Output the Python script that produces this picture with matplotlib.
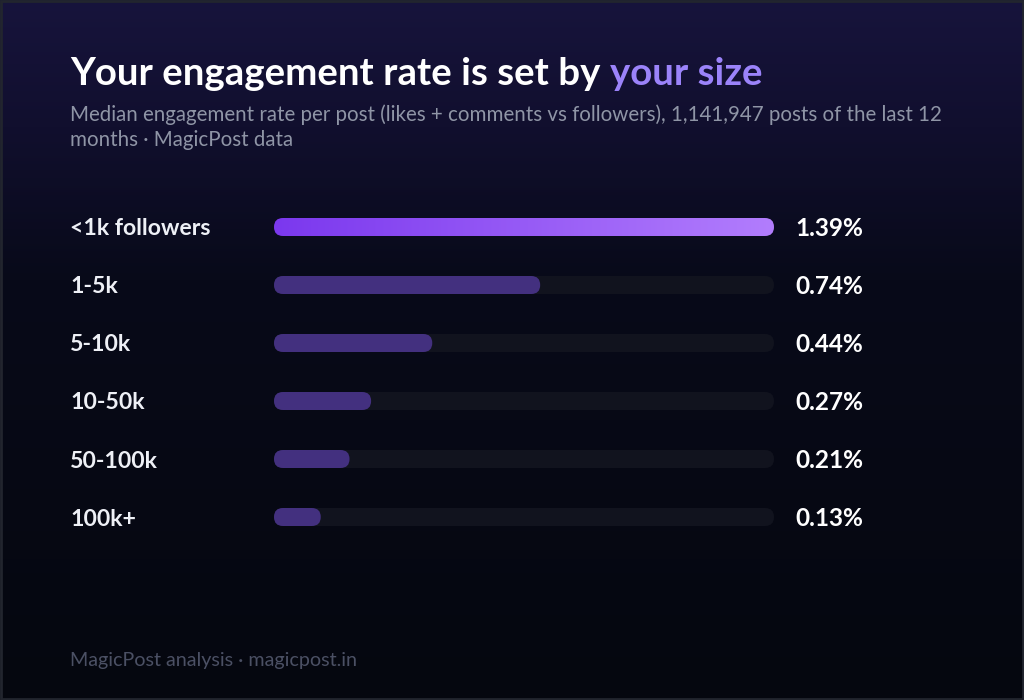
import matplotlib.pyplot as plt
import numpy as np
from matplotlib.colors import LinearSegmentedColormap
from matplotlib.patches import FancyBboxPatch, Rectangle
from matplotlib.transforms import blended_transform_factory

plt.rcParams['font.family'] = ['Lato', 'DejaVu Sans']

# Data
groups = ["<1k followers", "1-5k", "5-10k", "10-50k", "50-100k", "100k+"]
rates = [1.39, 0.74, 0.44, 0.27, 0.21, 0.13]
value_labels = ["1.39%", "0.74%", "0.44%", "0.27%", "0.21%", "0.13%"]

W, H = 1024, 700
fig = plt.figure(figsize=(W / 100, H / 100), dpi=100)

# Background in pixel coordinates
bg = fig.add_axes([0, 0, 1, 1])
bg.set_xlim(0, W)
bg.set_ylim(H, 0)
bg.axis("off")
bg_cmap = LinearSegmentedColormap.from_list(
    "bg", [(0.0, "#17143c"), (0.18, "#110f2e"), (0.4, "#080a19"), (1.0, "#05070f")])
grad = np.linspace(0, 1, 256).reshape(-1, 1)
bg.imshow(grad, cmap=bg_cmap, extent=[0, W, H, 0], aspect="auto", zorder=0)
bg.add_patch(Rectangle((1, 1), W - 2, H - 2, fill=False, ec="#22252e", lw=2, zorder=1))

# Title (two colours)
t1 = bg.text(70, 85, "Your engagement rate is set by ", color="white",
             fontsize=27.6, fontweight="bold", va="baseline", ha="left")
bg.annotate("your size", xy=(1, 0), xycoords=t1, color="#9b83fa",
            fontsize=27.6, fontweight="bold", va="bottom", ha="left")

bg.text(70, 121, "Median engagement rate per post (likes + comments vs followers), "
        "1,141,947 posts of the last 12", color="#8f95a6", fontsize=14.8, va="baseline")
bg.text(70, 146, "months \u00b7 MagicPost data", color="#8f95a6", fontsize=14.8, va="baseline")

bg.text(70, 666, "MagicPost analysis \u00b7 magicpost.in", color="#4b5064",
        fontsize=14.2, va="baseline")

# Bars axis
x0, x1 = 274, 774
row_h = 58
top = 227 - row_h / 2
n = len(groups)
ax = fig.add_axes([x0 / W, (H - (top + n * row_h)) / H, (x1 - x0) / W, n * row_h / H])
ax.set_facecolor("none")
ax.axis("off")
vmax = max(rates)
ax.set_xlim(0, vmax)
ax.set_ylim(n - 0.5, -0.5)

xu = vmax / (x1 - x0)      # x units per pixel
yu = 1 / row_h             # y units per pixel
bar_h = 18 * yu
r = 9 * xu
aspect = yu / xu

grad_cmap = LinearSegmentedColormap.from_list("bar", ["#7b38ee", "#b27dfd"])
trans = blended_transform_factory(bg.transData, ax.transData)

for i, (g, v, lab) in enumerate(zip(groups, rates, value_labels)):
    track = FancyBboxPatch((0, i - bar_h / 2), vmax, bar_h,
                           boxstyle=f"round,pad=0,rounding_size={r}",
                           mutation_aspect=aspect, fc="#11131e", ec="none", zorder=1)
    ax.add_patch(track)
    if i == 0:
        bar = FancyBboxPatch((0, i - bar_h / 2), v, bar_h,
                             boxstyle=f"round,pad=0,rounding_size={r}",
                             mutation_aspect=aspect, fc="none", ec="none", zorder=2)
        ax.add_patch(bar)
        im = ax.imshow(np.linspace(0, 1, 256).reshape(1, -1), cmap=grad_cmap,
                       extent=[0, v, i + bar_h / 2, i - bar_h / 2], aspect="auto", zorder=2)
        im.set_clip_path(bar)
    else:
        bar = FancyBboxPatch((0, i - bar_h / 2), v, bar_h,
                             boxstyle=f"round,pad=0,rounding_size={r}",
                             mutation_aspect=aspect, fc="#43307f", ec="none", zorder=2)
        ax.add_patch(bar)
    ax.text(70, i + 2 * yu, g, transform=trans, color="#eef0f6", fontsize=16.6,
            fontweight="bold", va="center", ha="left")
    ax.text(795, i + 2 * yu, lab, transform=trans, color="white", fontsize=17.6,
            fontweight="bold", va="center", ha="left")

ax.set_xlim(0, vmax)
ax.set_ylim(n - 0.5, -0.5)

fig.savefig("out.png", dpi=100, facecolor="#05070f")
